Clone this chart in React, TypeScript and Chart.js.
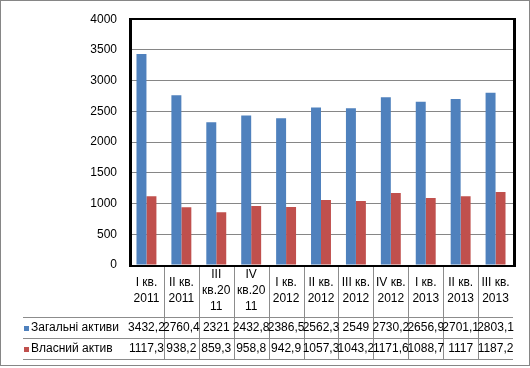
import { useEffect, useRef } from "react";
import { Chart, registerables } from "chart.js";

Chart.register(...registerables);

const categories: string[][] = [
  ["I кв.", "2011"],
  ["II кв.", "2011"],
  ["III", "кв.20", "11"],
  ["IV", "кв.20", "11"],
  ["I кв.", "2012"],
  ["II кв.", "2012"],
  ["III кв.", "2012"],
  ["IV кв.", "2012"],
  ["I кв.", "2013"],
  ["II кв.", "2013"],
  ["III кв.", "2013"],
];
const seriesNames = ["Загальні активи", "Власний актив"];
const totalAssets = [3432.2, 2760.4, 2321, 2432.8, 2386.5, 2562.3, 2549, 2730.2, 2656.9, 2701.1, 2803.1];
const ownAssets = [1117.3, 938.2, 859.3, 958.8, 942.9, 1057.3, 1043.2, 1171.6, 1088.7, 1117, 1187.2];
const yMin = 0;
const yMax = 4000;
const yStep = 500;

const colors = ["#4F81BD", "#C0504D"];
const FONT = "'Liberation Sans', Arial, sans-serif";
const FONT_SIZE = 12;

const fmt = (v: number) => String(v).replace(".", ",");

const tablePlugin = {
  id: "dataTable",
  afterDraw(chart: any) {
    const { ctx, chartArea: a } = chart;
    const n = categories.length;
    const w = (a.right - a.left) / n;
    const labelBottom = a.bottom + 52;
    const rowH = 21;
    const tableLeft = 23;
    const series = [totalAssets, ownAssets];
    ctx.save();
    // outer frame
    ctx.strokeStyle = "#868686";
    ctx.lineWidth = 1;
    ctx.strokeRect(0.5, 0.5, 529, 365);

    // table lines
    ctx.strokeStyle = "#8c8c8c";
    ctx.beginPath();
    for (let r = 0; r <= 2; r++) {
      const y = Math.round(labelBottom + r * rowH) + 0.5;
      ctx.moveTo(tableLeft, y);
      ctx.lineTo(a.right, y);
    }
    for (let i = 1; i < n; i++) {
      const xx = Math.round(a.left + i * w) + 0.5;
      ctx.moveTo(xx, a.bottom);
      ctx.lineTo(xx, labelBottom + 2 * rowH);
    }
    ctx.stroke();

    ctx.fillStyle = "#000";
    ctx.font = `${FONT_SIZE}px ${FONT}`;
    ctx.textAlign = "center";
    ctx.textBaseline = "middle";
    const lineH = 16;
    const labelMid = (a.bottom + labelBottom) / 2;
    categories.forEach((lines, i) => {
      const cx = a.left + (i + 0.5) * w;
      const y0 = labelMid - ((lines.length - 1) * lineH) / 2;
      lines.forEach((t, k) => ctx.fillText(t, cx, y0 + k * lineH));
    });

    series.forEach((vals, r) => {
      const cy = labelBottom + r * rowH + rowH / 2 + 0.5;
      ctx.fillStyle = colors[r];
      ctx.fillRect(tableLeft + 1, Math.round(cy - 2.5), 5, 5);
      ctx.fillStyle = "#000";
      ctx.textAlign = "left";
      ctx.fillText(seriesNames[r], tableLeft + 8, cy);
      ctx.textAlign = "center";
      vals.forEach((v, i) => {
        const cx = a.left + (i + 0.5) * w;
        ctx.fillText(fmt(v), cx, cy);
      });
    });

    // plot area border
    ctx.fillStyle = "#000";
    const L = Math.round(a.left), R = Math.round(a.right), T = Math.round(a.top), B = Math.round(a.bottom);
    ctx.fillRect(L, T - 1, R - L + 3, 2);
    ctx.fillRect(L, B, R - L + 3, 2);
    ctx.fillRect(L, T - 1, 3, B - T + 3);
    ctx.fillRect(R, T - 1, 3, B - T + 3);
    ctx.restore();
  },
};

export default function App() {
  const ref = useRef<HTMLCanvasElement | null>(null);
  useEffect(() => {
    if (!ref.current) return;
    const chart = new Chart(ref.current, {
      type: "bar",
      data: {
        labels: categories.map((c) => c.join(" ")),
        datasets: [
          { label: seriesNames[0], data: totalAssets, backgroundColor: colors[0] },
          { label: seriesNames[1], data: ownAssets, backgroundColor: colors[1] },
        ],
      },
      options: {
        animation: false,
        responsive: false,
        devicePixelRatio: 1,
        layout: { padding: { left: 0, top: 15, right: 17, bottom: 103 } },
        plugins: { legend: { display: false }, tooltip: { enabled: false } },
        datasets: { bar: { categoryPercentage: 0.571, barPercentage: 1 } },
        scales: {
          x: { display: false },
          y: {
            min: yMin,
            max: yMax,
            ticks: {
              stepSize: yStep,
              padding: 12,
              color: "#000",
              font: { family: FONT, size: FONT_SIZE },
              callback: (v: any) => String(v),
            },
            grid: { color: "#868686", lineWidth: 1, drawTicks: false },
            border: { display: false },
            afterFit: (scale: any) => {
              scale.width = 129;
            },
          },
        },
      },
      plugins: [tablePlugin],
    } as any);
    return () => chart.destroy();
  }, []);
  return (
    <div style={{ position: "absolute", left: 0, top: 0, width: 530, height: 368, background: "#fff" }}>
      <canvas ref={ref} width={530} height={368} />
    </div>
  );
}
